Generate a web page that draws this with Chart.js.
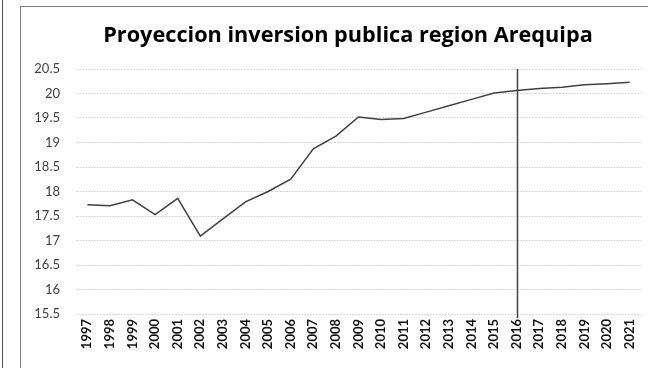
<!DOCTYPE html>
<html>
<head>
<meta charset="utf-8">
<script src="https://cdn.jsdelivr.net/npm/chart.js@4.4.1/dist/chart.umd.min.js"></script>
<style>
  html, body { margin: 0; padding: 0; background: #fff; overflow: hidden; }
  #wrap { position: relative; width: 648px; height: 368px; overflow: hidden; }
  #edge { position: absolute; left: 2px; top: 0; width: 0; height: 368px; border-left: 1.5px solid #555; }
  #frame { position: absolute; left: 20px; top: 6px; width: 700px; height: 400px;
           border-left: 1.5px solid #7f7f7f; border-top: 1.5px solid #7f7f7f; }
  #chart { position: absolute; left: 0; top: 0; }
</style>
</head>
<body>
<div id="wrap">
  <div id="edge"></div>
  <div id="frame"></div>
  <canvas id="chart" width="696" height="368"></canvas>
</div>
<script>
// Años (categorías del eje X)
const years = ['1997', '1998', '1999', '2000', '2001', '2002', '2003', '2004', '2005',
  '2006', '2007', '2008', '2009', '2010', '2011', '2012', '2013', '2014', '2015',
  '2016', '2017', '2018', '2019', '2020', '2021'];

// Inversión pública (log) - histórico hasta 2016 y proyección
const inversion = [17.73, 17.71, 17.83, 17.53, 17.86, 17.09, 17.44, 17.79, 18.0,
  18.25, 18.87, 19.13, 19.52, 19.47, 19.49, 19.62, 19.75, 19.88, 20.01,
  20.06, 20.10, 20.13, 20.18, 20.20, 20.23];

// Eje Y
const yMin = 15.5;
const yMax = 20.5;
const yStep = 0.5;

// Año donde empieza la proyección
const corteAnio = '2016';

const titulo = 'Proyeccion inversion publica region Arequipa';

// título centrado sobre el recuadro del gráfico (no sobre el área de trazado)
const tituloCentrado = {
  id: 'tituloCentrado',
  afterDraw(chart) {
    const ctx = chart.ctx;
    ctx.save();
    ctx.fillStyle = '#000';
    ctx.font = 'bold 21.7px "Open Sans"';
    ctx.textAlign = 'center';
    ctx.textBaseline = 'middle';
    ctx.fillText(titulo, 348, 36);
    ctx.restore();
  }
};

// línea vertical que separa histórico / proyección
const corteLinea = {
  id: 'corteLinea',
  afterDatasetsDraw(chart) {
    const { ctx, chartArea, scales } = chart;
    const x = Math.round(scales.x.getPixelForValue(years.indexOf(corteAnio))) + 0.5;
    ctx.save();
    ctx.strokeStyle = '#404040';
    ctx.lineWidth = 1.5;
    ctx.beginPath();
    ctx.moveTo(x, chartArea.top);
    ctx.lineTo(x, chartArea.bottom + 4);
    ctx.stroke();
    ctx.restore();
  }
};

new Chart(document.getElementById('chart'), {
  type: 'line',
  data: {
    labels: years,
    datasets: [{
      data: inversion,
      borderColor: '#404040',
      borderWidth: 1.5,
      pointRadius: 0,
      tension: 0,
      fill: false
    }]
  },
  options: {
    responsive: false,
    animation: false,
    devicePixelRatio: 1,
    layout: { padding: { left: 0, right: 55, top: 69, bottom: 0 } },
    plugins: {
      legend: { display: false },
      tooltip: { enabled: false },
      title: { display: false }
    },
    scales: {
      x: {
        offset: true,
        grid: { display: false, drawTicks: false },
        border: { display: false },
        ticks: {
          color: '#111',
          font: { family: 'Lato', size: 13, weight: 'bold' },
          minRotation: 90,
          maxRotation: 90,
          autoSkip: false,
          padding: 5
        },
        afterFit(scale) { scale.height = 54; }
      },
      y: {
        min: yMin,
        max: yMax,
        grid: { color: '#d6d6d6', lineWidth: 1, drawTicks: false },
        border: { display: false, dash: [2, 1] },
        ticks: {
          stepSize: yStep,
          color: '#404040',
          font: { family: 'Lato', size: 13 },
          padding: 16,
          callback: (v) => String(v)
        },
        afterFit(scale) { scale.width = 76; }
      }
    }
  },
  plugins: [corteLinea, tituloCentrado]
});
</script>
</body>
</html>
